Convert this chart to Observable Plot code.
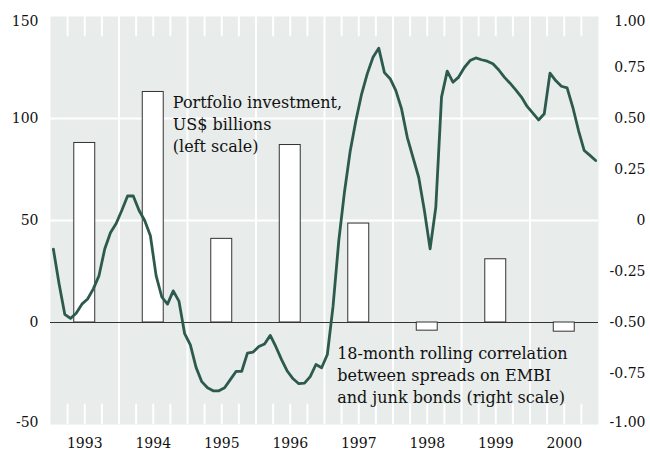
<!DOCTYPE html>
<html>
<head>
<meta charset="utf-8">
<script src="https://cdn.jsdelivr.net/npm/d3@7"></script>
<script src="https://cdn.jsdelivr.net/npm/@observablehq/plot@0.6"></script>
<style>
  html, body { margin: 0; padding: 0; background: #ffffff; }
  #chart { width: 650px; height: 450px; }
</style>
</head>
<body>
<div id="chart"></div>
<script>
// Years (annual bars) and portfolio investment, US$ billions (left scale)
const years = [1993, 1994, 1995, 1996, 1997, 1998, 1999, 2000];
const portfolio = [88, 113, 41, 87, 48.5, -4, 31, -4.5];

// 18-month rolling correlation (right scale), monthly Jan 1993 .. Dec 2000
const correlation = [
  -0.14, -0.31, -0.46, -0.48, -0.455, -0.41, -0.385, -0.335, -0.27, -0.14, -0.06, -0.015,
  0.05, 0.12, 0.12, 0.05, 0.0, -0.075, -0.27, -0.375, -0.41, -0.345, -0.395, -0.555,
  -0.61, -0.72, -0.79, -0.82, -0.835, -0.835, -0.82, -0.78, -0.74, -0.739, -0.65, -0.645,
  -0.618, -0.605, -0.563, -0.62, -0.683, -0.739, -0.776, -0.80, -0.797, -0.765, -0.706, -0.722,
  -0.657, -0.42, -0.10, 0.14, 0.34, 0.49, 0.62, 0.72, 0.80, 0.845, 0.725, 0.695,
  0.637, 0.547, 0.408, 0.31, 0.212, 0.049, -0.139, 0.065, 0.605, 0.732, 0.678, 0.703,
  0.75, 0.784, 0.797, 0.788, 0.781, 0.768, 0.739, 0.703, 0.673, 0.64, 0.605, 0.559,
  0.526, 0.493, 0.523, 0.722, 0.686, 0.658, 0.65, 0.555, 0.441, 0.343, 0.319, 0.294
];

// Tick labels
const leftTicks = [-50, 0, 50, 100, 150];
const rightTicks = [-1, -0.75, -0.5, -0.25, 0, 0.25, 0.5, 0.75, 1];
const gridValues = [50, 100];

// Annotations
const notes = [
  {x: 1994.785, y: 112.6, text: "Portfolio investment,\nUS$ billions\n(left scale)"},
  {x: 1997.185, y: -10.1, text: "18-month rolling correlation\nbetween spreads on EMBI\nand junk bonds (right scale)"}
];

// right scale (correlation) -> left scale (billions)
const toLeft = r => (r + 0.5) * 100;
const fmtRight = r => r === 0 ? "0" : r.toFixed(2);
// extreme labels are nudged inward, as in the original
const nudge = v => v === 150 ? 5 : v === -50 ? -2 : 0;

const boundaries = years.slice(1);
const quarters = years.flatMap(y => [y + 0.25, y + 0.5, y + 0.75]);
const bars = years.map((y, i) => ({year: y, value: portfolio[i]}));
const series = correlation.map((c, i) => ({t: years[0] + (i + 0.5) / 12, c}));
const leftLabels = leftTicks.map(v => ({v, label: String(v)}));
const rightLabels = rightTicks.map(r => ({v: toLeft(r), label: fmtRight(r)}));

function labelMarks(data, anchor, dx) {
  return [0, 5, -2].map(off => Plot.text(data.filter(d => nudge(d.v) === off), {
    y: "v", text: "label", frameAnchor: anchor, dx, dy: off, textAnchor: "end",
    fontSize: 14, fill: "#111111"
  }));
}

const chart = Plot.plot({
  width: 650,
  height: 450,
  marginLeft: 50,
  marginRight: 52,
  marginTop: 16,
  marginBottom: 26,
  x: {domain: [1993, 2001]},
  y: {domain: [-50, 150], axis: null},
  style: {fontFamily: "DejaVu Serif", fontSize: "14px", color: "#111111", background: "#ffffff"},
  marks: [
    Plot.frame({fill: "#e8ecea", stroke: null}),
    Plot.ruleY(gridValues, {stroke: "#ffffff", strokeWidth: 2}),
    Plot.ruleX(boundaries, {stroke: "#ffffff", strokeWidth: 2}),
    Plot.ruleX(quarters, {y1: 150, y2: 140, stroke: "#ffffff", strokeWidth: 2}),
    Plot.ruleX(quarters, {y1: -50, y2: -40, stroke: "#ffffff", strokeWidth: 2}),
    Plot.ruleY([0], {stroke: "#333333", strokeWidth: 1}),
    Plot.rectY(bars, {x1: d => d.year + 0.347, x2: d => d.year + 0.653, y1: 0, y2: "value",
      fill: "#ffffff", stroke: "#333333", strokeWidth: 1}),
    Plot.line(series, {x: "t", y: d => toLeft(d.c), stroke: "#2d5a4e", strokeWidth: 2.8,
      strokeLinejoin: "round"}),
    Plot.text(notes, {x: "x", y: "y", text: "text", textAnchor: "start", lineAnchor: "top",
      lineHeight: 1.375, fontSize: 16, fill: "#111111"}),
    ...labelMarks(leftLabels, "left", -12),
    ...labelMarks(rightLabels, "right", 47),
    Plot.axisX(years.map(y => y + 0.5), {tickSize: 0, tickPadding: 14,
      tickFormat: d => String(Math.floor(d)), fontSize: 14})
  ]
});
document.getElementById("chart").appendChild(chart);
</script>
</body>
</html>
